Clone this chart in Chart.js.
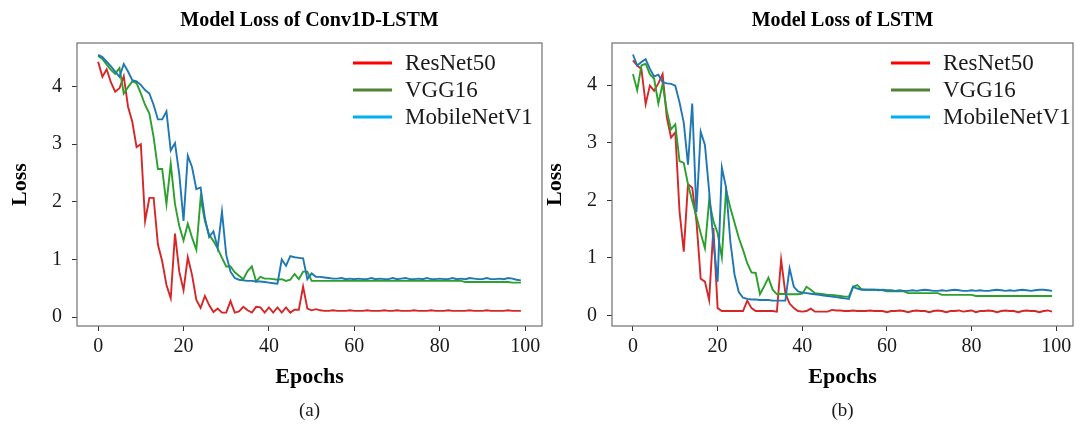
<!DOCTYPE html>
<html>
<head>
<meta charset="utf-8">
<script src="https://cdn.jsdelivr.net/npm/chart.js@4"></script>
<style>
  html, body { margin: 0; padding: 0; background: #fff; }
  #wrap { position: relative; width: 1076px; height: 425px; overflow: hidden; background: #fff; }
  #left { position: absolute; left: 0; top: 0; }
  #right { position: absolute; left: 535px; top: 0; }
</style>
</head>
<body>
<div id="wrap">
  <canvas id="left" width="548" height="425"></canvas>
  <canvas id="right" width="541" height="425"></canvas>
</div>
<script>
// epochs 0..99
const epochs = [];
for (let i = 0; i < 100; i++) epochs.push(i);

const seriesNames = ['ResNet50', 'VGG16', 'MobileNetV1'];
const xTicks = [0, 20, 40, 60, 80, 100];
const yTicks = [0, 1, 2, 3, 4];

// (a) Conv1D-LSTM
const convResNet = [
  4.43, 4.17, 4.30, 4.07, 3.91, 3.97, 4.18, 3.65, 3.39, 2.95,
  3.00, 1.67, 2.07, 2.07, 1.26, 0.97, 0.56, 0.33, 1.45, 0.79,
  0.47, 1.04, 0.73, 0.30, 0.16, 0.37, 0.21, 0.09, 0.15, 0.08,
  0.08, 0.28, 0.08, 0.10, 0.18, 0.12, 0.08, 0.18, 0.17, 0.08,
  0.17, 0.08, 0.17, 0.08, 0.17, 0.08, 0.13, 0.13, 0.53, 0.15,
  0.12, 0.14, 0.12, 0.11, 0.11, 0.12, 0.11, 0.11, 0.11, 0.12,
  0.11, 0.11, 0.11, 0.12, 0.11, 0.11, 0.11, 0.12, 0.11, 0.11,
  0.12, 0.11, 0.11, 0.11, 0.12, 0.11, 0.11, 0.11, 0.12, 0.11,
  0.11, 0.11, 0.12, 0.11, 0.11, 0.11, 0.11, 0.12, 0.11, 0.11,
  0.11, 0.12, 0.11, 0.11, 0.11, 0.11, 0.12, 0.11, 0.11, 0.11
];
const convVGG = [
  4.53, 4.48, 4.38, 4.29, 4.22, 4.32, 3.88, 3.99, 4.09, 4.06,
  3.88, 3.68, 3.53, 3.12, 2.57, 2.57, 1.96, 2.66, 1.96, 1.58,
  1.33, 1.62, 1.38, 1.17, 2.07, 1.67, 1.43, 1.32, 1.19, 1.03,
  0.88, 0.88, 0.78, 0.72, 0.66, 0.80, 0.88, 0.62, 0.70, 0.67,
  0.67, 0.66, 0.65, 0.66, 0.63, 0.65, 0.75, 0.66, 0.79, 0.79,
  0.63, 0.63, 0.63, 0.63, 0.63, 0.63, 0.63, 0.63, 0.63, 0.63,
  0.63, 0.63, 0.63, 0.63, 0.63, 0.63, 0.63, 0.63, 0.63, 0.63,
  0.63, 0.63, 0.63, 0.63, 0.63, 0.63, 0.63, 0.63, 0.63, 0.63,
  0.63, 0.63, 0.63, 0.63, 0.63, 0.63, 0.61, 0.61, 0.61, 0.61,
  0.61, 0.61, 0.61, 0.61, 0.61, 0.61, 0.61, 0.60, 0.60, 0.60
];
const convMobile = [
  4.55, 4.51, 4.43, 4.35, 4.26, 4.17, 4.39, 4.26, 4.11, 4.09,
  4.03, 3.94, 3.88, 3.68, 3.43, 3.43, 3.57, 2.89, 3.02, 2.48,
  1.67, 2.80, 2.60, 2.22, 2.25, 1.72, 1.39, 1.49, 1.20, 1.83,
  1.08, 0.79, 0.68, 0.65, 0.64, 0.63, 0.63, 0.62, 0.62, 0.61,
  0.60, 0.59, 0.58, 1.00, 0.89, 1.06, 1.04, 1.03, 1.02, 0.66,
  0.76, 0.70, 0.70, 0.69, 0.68, 0.67, 0.67, 0.68, 0.66, 0.67,
  0.66, 0.67, 0.66, 0.66, 0.68, 0.66, 0.67, 0.66, 0.66, 0.68,
  0.66, 0.67, 0.68, 0.66, 0.66, 0.67, 0.66, 0.68, 0.66, 0.66,
  0.67, 0.66, 0.66, 0.68, 0.66, 0.67, 0.66, 0.68, 0.67, 0.66,
  0.66, 0.68, 0.66, 0.66, 0.67, 0.66, 0.68, 0.67, 0.65, 0.64
];

// (b) LSTM
const lstmResNet = [
  4.43, 4.34, 4.28, 3.67, 3.99, 3.90, 4.03, 4.19, 3.44, 3.09,
  3.18, 1.81, 1.11, 2.28, 2.22, 1.64, 0.64, 0.59, 0.27, 1.52,
  0.13, 0.08, 0.08, 0.08, 0.08, 0.08, 0.08, 0.26, 0.13, 0.08,
  0.08, 0.08, 0.08, 0.08, 0.07, 0.97, 0.39, 0.21, 0.13, 0.08,
  0.07, 0.08, 0.12, 0.07, 0.07, 0.07, 0.07, 0.10, 0.09, 0.09,
  0.08, 0.08, 0.09, 0.08, 0.08, 0.08, 0.09, 0.08, 0.08, 0.08,
  0.06, 0.08, 0.08, 0.09, 0.08, 0.06, 0.08, 0.09, 0.08, 0.08,
  0.06, 0.08, 0.09, 0.08, 0.06, 0.08, 0.08, 0.09, 0.07, 0.08,
  0.09, 0.06, 0.08, 0.08, 0.09, 0.08, 0.06, 0.08, 0.09, 0.08,
  0.08, 0.06, 0.08, 0.09, 0.08, 0.08, 0.06, 0.08, 0.09, 0.07
];
const lstmVGG = [
  4.19, 3.91, 4.34, 4.37, 4.19, 4.11, 3.68, 4.02, 3.55, 3.23,
  3.32, 2.68, 2.65, 2.28, 1.99, 1.72, 1.43, 1.17, 2.00, 1.64,
  1.43, 1.01, 2.19, 1.87, 1.61, 1.35, 1.14, 0.91, 0.75, 0.74,
  0.37, 0.51, 0.66, 0.45, 0.37, 0.38, 0.37, 0.37, 0.37, 0.37,
  0.38, 0.50, 0.45, 0.39, 0.38, 0.37, 0.36, 0.36, 0.35, 0.34,
  0.33, 0.33, 0.50, 0.53, 0.46, 0.45, 0.45, 0.45, 0.45, 0.44,
  0.42, 0.42, 0.42, 0.42, 0.42, 0.39, 0.39, 0.39, 0.39, 0.39,
  0.39, 0.39, 0.39, 0.36, 0.36, 0.36, 0.36, 0.36, 0.36, 0.36,
  0.36, 0.34, 0.34, 0.34, 0.34, 0.34, 0.34, 0.34, 0.34, 0.34,
  0.34, 0.34, 0.34, 0.34, 0.34, 0.34, 0.34, 0.34, 0.34, 0.34
];
const lstmMobile = [
  4.53, 4.34, 4.40, 4.45, 4.28, 4.15, 4.18, 4.05, 4.03, 4.02,
  3.99, 3.70, 3.35, 2.62, 3.68, 1.80, 3.19, 2.96, 2.16, 1.29,
  0.59, 2.57, 2.22, 1.29, 0.71, 0.41, 0.31, 0.29, 0.28, 0.28,
  0.27, 0.27, 0.27, 0.26, 0.26, 0.26, 0.26, 0.82, 0.50, 0.42,
  0.40, 0.39, 0.38, 0.37, 0.36, 0.35, 0.34, 0.33, 0.32, 0.31,
  0.30, 0.29, 0.50, 0.47, 0.45, 0.45, 0.45, 0.45, 0.44, 0.45,
  0.44, 0.44, 0.43, 0.44, 0.43, 0.43, 0.44, 0.43, 0.44, 0.45,
  0.44, 0.43, 0.43, 0.44, 0.43, 0.44, 0.45, 0.44, 0.43, 0.43,
  0.44, 0.43, 0.44, 0.43, 0.43, 0.44, 0.45, 0.44, 0.43, 0.44,
  0.43, 0.44, 0.45, 0.44, 0.43, 0.44, 0.45, 0.45, 0.44, 0.43
];

const lineColors = ['#d62728', '#2ca02c', '#1f77b4'];
const legendColors = ['#ff0000', '#538135', '#00b0f0'];
const serif = "'Liberation Serif', 'Times New Roman', serif";

// box round the plot area, like matplotlib spines
const framePlugin = {
  id: 'frame',
  afterDatasetsDraw(chart) {
    const {ctx, chartArea: a} = chart;
    ctx.save();
    ctx.strokeStyle = '#707070';
    ctx.lineWidth = 1.2;
    ctx.strokeRect(a.left, a.top, a.right - a.left, a.bottom - a.top);
    ctx.restore();
  }
};

// legend inside the axes, top right
const boxLegend = {
  id: 'boxLegend',
  afterDraw(chart, args, opts) {
    const ctx = chart.ctx;
    ctx.save();
    ctx.font = '23px ' + serif;
    ctx.textBaseline = 'middle';
    chart.data.datasets.forEach((ds, i) => {
      const y = opts.y0 + i * 27;
      ctx.strokeStyle = legendColors[i];
      ctx.lineWidth = 3;
      ctx.beginPath();
      ctx.moveTo(opts.x0, y);
      ctx.lineTo(opts.x0 + 39, y);
      ctx.stroke();
      ctx.fillStyle = '#1a1a1a';
      ctx.fillText(ds.label, opts.x0 + 52, y + 1);
    });
    ctx.restore();
  }
};

function makeChart(id, titleText, caption, series, yMin, yMax, legendX, padRight) {
  const datasets = series.map((vals, i) => ({
    label: seriesNames[i],
    data: vals.map((v, j) => ({x: epochs[j], y: v})),
    borderColor: lineColors[i],
    borderWidth: 1.9,
    pointRadius: 0,
    tension: 0,
    fill: false,
    order: 3 - i
  }));

  return new Chart(document.getElementById(id), {
    type: 'line',
    data: {datasets},
    plugins: [framePlugin, boxLegend],
    options: {
      responsive: false,
      animation: false,
      layout: {padding: {left: 0, right: padRight, top: 0, bottom: 0}},
      plugins: {
        legend: {display: false},
        tooltip: {enabled: false},
        title: {
          display: true,
          text: titleText,
          fullSize: false,
          color: '#000',
          font: {family: serif, size: 20, weight: 'bold'},
          padding: {top: 9, bottom: 10}
        },
        subtitle: {
          display: true,
          position: 'bottom',
          text: caption,
          fullSize: false,
          color: '#1a1a1a',
          font: {family: serif, size: 19},
          padding: {top: 6, bottom: 3}
        },
        boxLegend: {x0: legendX, y0: 63}
      },
      scales: {
        x: {
          type: 'linear',
          min: -4.95,
          max: 103.95,
          afterBuildTicks: axis => { axis.ticks = xTicks.map(v => ({value: v})); },
          afterFit: axis => { axis.height = 67.2; },
          grid: {drawOnChartArea: false, drawTicks: true, tickLength: 5, color: '#333'},
          border: {display: false},
          ticks: {color: '#1a1a1a', font: {family: serif, size: 20}, padding: 4, maxRotation: 0},
          title: {
            display: true,
            text: 'Epochs',
            color: '#000',
            font: {family: serif, size: 22, weight: 'bold'},
            padding: {top: 2, bottom: 3}
          }
        },
        y: {
          min: yMin,
          max: yMax,
          afterBuildTicks: axis => { axis.ticks = yTicks.map(v => ({value: v})); },
          afterFit: axis => { axis.width = 77; },
          grid: {drawOnChartArea: false, drawTicks: true, tickLength: 5, color: '#333'},
          border: {display: false},
          ticks: {color: '#1a1a1a', font: {family: serif, size: 20}, padding: 10},
          title: {
            display: true,
            text: 'Loss',
            color: '#000',
            font: {family: serif, size: 22, weight: 'bold'},
            padding: {top: 7, bottom: 0}
          }
        }
      }
    }
  });
}

makeChart('left', 'Model Loss of Conv1D-LSTM', '(a)',
  [convResNet, convVGG, convMobile], -0.152, 4.755, 353, 6);
makeChart('right', 'Model Loss of LSTM', '(b)',
  [lstmResNet, lstmVGG, lstmMobile], -0.18, 4.73, 356, 3);
</script>
</body>
</html>
